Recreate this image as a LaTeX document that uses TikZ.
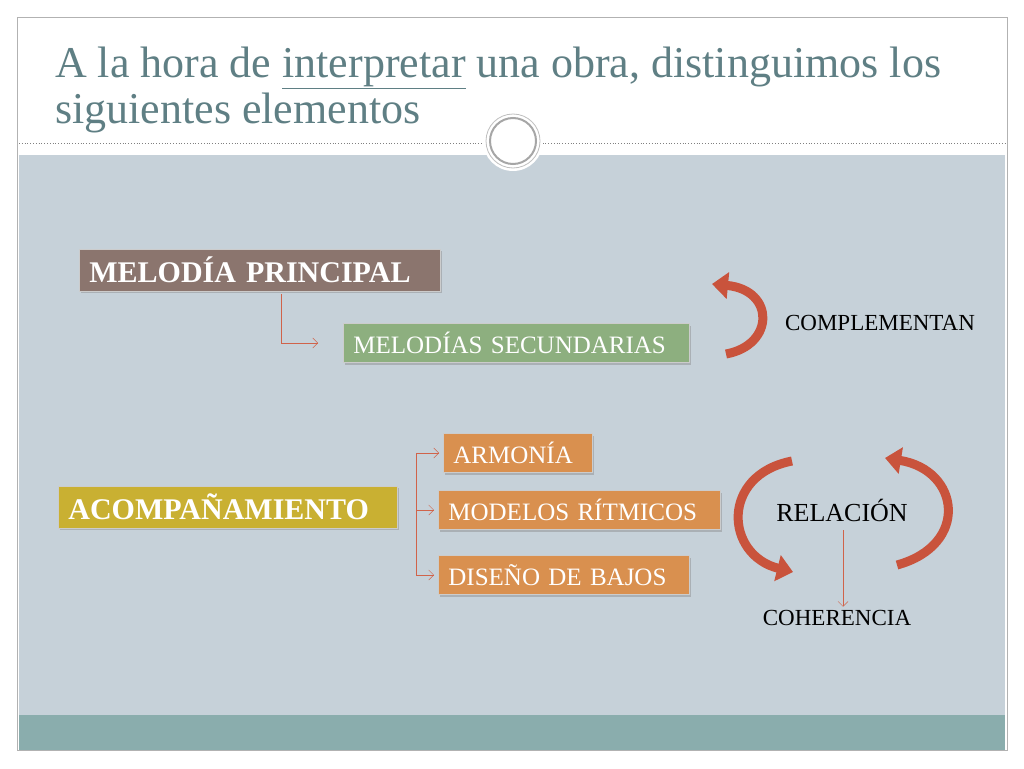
\documentclass[tikz,border=0pt]{standalone}
\usepackage{fontspec}
\setmainfont{Liberation Serif}
\usetikzlibrary{positioning,arrows.meta,shadows}
\definecolor{titlegray}{HTML}{5F7F84}
\definecolor{panel}{HTML}{C6D1D9}
\definecolor{band}{HTML}{8AADAD}
\definecolor{brownbox}{HTML}{8B756E}
\definecolor{greenbox}{HTML}{8DAF7F}
\definecolor{orangebox}{HTML}{D9904F}
\definecolor{yellowbox}{HTML}{C9B032}
\definecolor{linkred}{HTML}{D0634A}
\definecolor{bigarrow}{HTML}{C9533C}
\begin{document}
\begin{tikzpicture}[x=1pt,y=-1pt,
    boxnode/.style={rectangle, draw=white!60!gray, thick, text=white, inner sep=0pt, anchor=west, text width=#1-20pt, minimum width=#1, align=left, drop shadow={shadow xshift=2pt,shadow yshift=-2pt,opacity=.4}},
    bigbox/.style={boxnode=#1, minimum height=42pt, font=\fontsize{30}{32}\selectfont\bfseries},
    smallbox/.style={boxnode=#1, minimum height=39pt, font=\fontsize{25}{27}\selectfont},
    plainlabel/.style={font=\fontsize{23}{25}\selectfont},
    link/.style={draw=linkred, -{Straight Barb[length=5pt,width=10pt]}},
    curvearrow/.style={draw=bigarrow, line width=9pt, -{Triangle[length=16pt,width=26pt]}},
    ]
    % Background
    \useasboundingbox (0,0) rectangle (1024,768);
    \fill[white] (0,0) rectangle (1024,768);
    \fill[panel] (19,155) rectangle (1005,715);
    \fill[band] (19,715) rectangle (1005,750);
    \draw[gray!60] (17,17) rectangle (1007,750);
    \draw[gray, dotted, thick] (19,143) -- (1005,143);
    \fill[white] (513,141) circle (30);
    \draw[gray!70, line width=2pt] (513,141) circle (23);
    \draw[gray!50, thick] (513,141) circle (27);
    % Title
    \node[anchor=west, inner sep=0pt, text=titlegray, font=\fontsize{44}{48}\selectfont] (title1) at (55,68)
        {A la hora de \underline{interpretar} una obra, distinguimos los};
    \node[anchor=west, inner sep=0pt, text=titlegray, font=\fontsize{44}{48}\selectfont] (title2) at (55,113)
        {siguientes elementos};
    % Nodes
    \node[bigbox=361pt, fill=brownbox] (melodia) at (79,270) {MELODÍA PRINCIPAL};
    \node[smallbox=346pt, fill=greenbox] (secund) at (343,343) {MELODÍAS SECUNDARIAS};
    \node[bigbox=339pt, fill=yellowbox] (acomp) at (58,507) {ACOMPAÑAMIENTO};
    \node[smallbox=149pt, fill=orangebox] (armonia) at (443,453) {ARMONÍA};
    \node[smallbox=282pt, fill=orangebox] (ritmos) at (438,510) {MODELOS RÍTMICOS};
    \node[smallbox=251pt, fill=orangebox] (bajos) at (438,575) {DISEÑO DE BAJOS};
    \node[plainlabel] (complem) at (880,323) {COMPLEMENTAN};
    \node[plainlabel, font=\fontsize{26}{28}\selectfont] (relacion) at (842,510) {RELACIÓN};
    \node[plainlabel] (coheren) at (837,618) {COHERENCIA};
    \coordinate (split) at (416,507);
    \coordinate (drop) at (843,530);
    %Lines
    \draw[link] (281,294) |- ([xshift=-25pt]secund.west);
    \draw[draw=linkred] (split |- armonia.west) -- (split |- bajos.west);
    \draw[link] (split |- armonia.west) -- ([xshift=-4pt]armonia.west);
    \draw[link] (split |- ritmos.west) -- ([xshift=-4pt]ritmos.west);
    \draw[link] (split |- bajos.west) -- ([xshift=-4pt]bajos.west);
    \draw[link] (drop) -- (drop |- coheren.north);
    % Curved arrows
    \draw[curvearrow] (726,354) .. controls (775,345) and (775,290) .. (712,284);
    \draw[curvearrow] (792,461) .. controls (720,475) and (725,555) .. (793,572);
    \draw[curvearrow] (897,565) .. controls (970,545) and (960,470) .. (885,458);
\end{tikzpicture}
\end{document}
